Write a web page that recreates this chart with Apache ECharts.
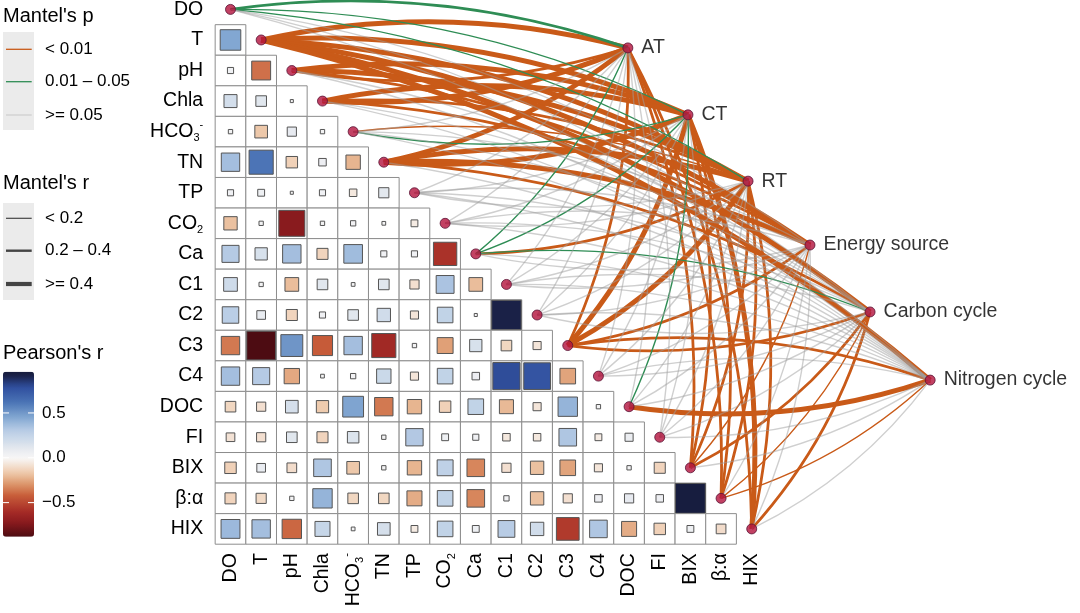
<!DOCTYPE html>
<html><head><meta charset="utf-8">
<script src="https://cdn.jsdelivr.net/npm/echarts@6/dist/echarts.min.js"></script>
<style>html,body{margin:0;padding:0;background:#fff}#c{width:1080px;height:613px}</style>
</head><body><div id="c"></div>
<script>
// ---------------- DATA ----------------
const variables = ['DO','T','pH','Chla','HCO3','TN','TP','CO2','Ca','C1','C2','C3','C4','DOC','FI','BIX','β:α','HIX'];
const groups = ['AT','CT','RT','Energy source','Carbon cycle','Nitrogen cycle'];

// Pearson's r, lower triangle: row i holds r(variable i, variable j) for j < i
const pearsonRows = [
  [],
  [0.45],
  [0.04, -0.38],
  [0.18, 0.12, 0.01],
  [0.02, -0.17, 0.09, 0.02],
  [0.36, 0.62, -0.14, 0.06, -0.22],
  [0.04, 0.05, 0.01, 0.04, -0.06, 0.11],
  [-0.19, 0.02, -0.72, 0.02, 0.03, 0.015, -0.05],
  [0.31, 0.16, 0.36, -0.13, 0.37, 0.04, 0.04, -0.58],
  [0.2, 0.02, -0.2, 0.12, 0.015, 0.12, -0.09, 0.34, -0.2],
  [0.29, 0.08, -0.13, 0.04, 0.12, 0.19, -0.07, 0.26, 0.01, 0.92],
  [-0.36, -0.88, 0.51, -0.43, 0.36, -0.62, 0.02, -0.27, 0.16, -0.12, -0.07],
  [0.36, 0.31, -0.25, 0.015, 0.03, 0.22, -0.07, 0.26, 0.06, 0.79, 0.76, -0.26],
  [-0.12, -0.09, 0.17, -0.16, 0.46, -0.36, -0.22, -0.14, 0.26, -0.21, -0.07, 0.4, 0.02],
  [-0.08, -0.09, 0.12, -0.13, 0.14, 0.02, 0.32, 0.05, 0.04, -0.06, -0.06, 0.33, -0.05, 0.07],
  [-0.14, 0.08, -0.1, 0.33, -0.17, 0.02, -0.22, 0.27, -0.33, -0.09, -0.19, -0.26, -0.07, 0.02, -0.13],
  [-0.13, -0.11, 0.02, 0.4, -0.12, -0.12, -0.24, 0.26, -0.33, 0.03, -0.19, -0.09, 0.06, 0.09, 0.06, 0.95],
  [0.38, 0.36, -0.4, 0.24, 0.015, 0.17, -0.05, 0.26, 0.05, 0.3, 0.19, -0.55, 0.33, -0.24, -0.14, 0.05, -0.1]
];

// Mantel's r and p for each group (order of `variables`)
const mantelR_AT = [0.30,0.55,0.30,0.45,0.08,0.50,0.05,0.06,0.15,0.05,0.06,0.35,0.07,0.10,0.04,0.30,0.25,0.30];
const mantelP_AT = [0.02,0.001,0.001,0.001,0.30,0.001,0.50,0.40,0.03,0.60,0.50,0.001,0.30,0.20,0.60,0.005,0.005,0.002];
const mantelR_CT = [0.15,0.60,0.45,0.45,0.12,0.50,0.06,0.05,0.15,0.05,0.07,0.50,0.08,0.15,0.05,0.30,0.30,0.45];
const mantelP_CT = [0.04,0.001,0.001,0.001,0.03,0.001,0.40,0.50,0.04,0.50,0.40,0.001,0.30,0.03,0.50,0.004,0.004,0.001];
const mantelR_RT = [0.12,0.55,0.42,0.35,0.18,0.50,0.05,0.06,0.25,0.06,0.05,0.45,0.08,0.10,0.06,0.35,0.30,0.35];
const mantelP_RT = [0.04,0.001,0.001,0.001,0.008,0.001,0.50,0.40,0.005,0.40,0.50,0.001,0.30,0.20,0.40,0.002,0.003,0.002];
const mantelR_ES = [0.08,0.50,0.30,0.30,0.06,0.42,0.05,0.05,0.08,0.06,0.05,0.30,0.07,0.08,0.05,0.18,0.10,0.10];
const mantelP_ES = [0.20,0.001,0.002,0.003,0.40,0.001,0.50,0.60,0.20,0.50,0.60,0.002,0.30,0.20,0.50,0.008,0.10,0.10];
const mantelR_CC = [0.07,0.45,0.10,0.10,0.06,0.30,0.05,0.06,0.12,0.06,0.05,0.30,0.08,0.10,0.06,0.30,0.18,0.30];
const mantelP_CC = [0.30,0.001,0.10,0.10,0.40,0.003,0.50,0.40,0.02,0.50,0.60,0.002,0.30,0.10,0.40,0.003,0.008,0.002];
const mantelR_NC = [0.06,0.40,0.08,0.08,0.05,0.10,0.05,0.05,0.06,0.05,0.05,0.30,0.07,0.42,0.05,0.10,0.18,0.10];
const mantelP_NC = [0.40,0.001,0.20,0.20,0.50,0.10,0.60,0.50,0.30,0.60,0.50,0.003,0.30,0.001,0.50,0.10,0.008,0.10];

const pTicks = [0.5, 0.0, -0.5];

// ---------------- STYLE / LAYOUT ----------------
const ORANGE = '#c95a18', GREEN = '#2f8d55', GRAY = 'rgba(160,160,160,0.5)';
const FONT = '"Liberation Sans", Arial, Helvetica, sans-serif';
const CELLX = 30.66, CELLY = 30.56;
const X0 = 230.5, Y0 = 9.4;          // pixel centre of column/row 0
const XMAX = 24.5;
const WIDTHS = [1.4, 2.8, 5.0];      // Mantel's r classes: <0.2, 0.2-0.4, >=0.4
// positions of group nodes (axis units)
const groupPos = [[12.96,1.26],[14.92,3.45],[16.88,5.62],[18.9,7.71],[20.86,9.9],[22.82,12.13]];

const mantelR = [mantelR_AT, mantelR_CT, mantelR_RT, mantelR_ES, mantelR_CC, mantelR_NC];
const mantelP = [mantelP_AT, mantelP_CT, mantelP_RT, mantelP_ES, mantelP_CC, mantelP_NC];

const paletteStops = [
  [-1, '#3a0610'], [-0.88, '#4d0c12'], [-0.72, '#8a1a1e'], [-0.6, '#a62c26'], [-0.42, '#c85e3a'],
  [-0.3, '#dc9468'], [-0.17, '#eec9aa'], [-0.05, '#f5ebe3'], [0, '#f7f7f7'], [0.1, '#e6e9ef'],
  [0.18, '#d3deeb'], [0.31, '#b6cbe5'], [0.45, '#82a7d2'], [0.62, '#4a73b5'], [0.79, '#2f4e9e'],
  [0.92, '#1a2045'], [1, '#121833']
];
function hex2rgb(h){return [parseInt(h.slice(1,3),16),parseInt(h.slice(3,5),16),parseInt(h.slice(5,7),16)];}
function palette(v){
  for(let k=0;k<paletteStops.length-1;k++){
    const [a,ca]=paletteStops[k],[b,cb]=paletteStops[k+1];
    if(v>=a && v<=b){const t=(v-a)/(b-a);const A=hex2rgb(ca),B=hex2rgb(cb);
      return 'rgb('+A.map((x,i)=>Math.round(x+(B[i]-x)*t)).join(',')+')';}
  }
  return v<0?paletteStops[0][1]:paletteStops[paletteStops.length-1][1];
}
const VM_MIN = -0.88, VM_MAX = 0.96, VM_TOP = 371.7, VM_H = 165, VM_LEFT = 3, VM_W = 31;
const vmColors = [];
for(let k=0;k<=40;k++){vmColors.push(palette(VM_MIN+(VM_MAX-VM_MIN)*k/40));}

// ---------------- BUILD ----------------
const cellData = [];
pearsonRows.forEach((row,i)=>row.forEach((r,j)=>cellData.push([j,i,r])));

const linksOrange=[], linksGreen=[], linksGray=[];
groups.forEach((g,k)=>{
  variables.forEach((v,i)=>{
    const r=mantelR[k][i], p=mantelP[k][i];
    const w = r<0.2?WIDTHS[0]:(r<0.4?WIDTHS[1]:WIDTHS[2]);
    const pos=groupPos[k];
    const curv = pos[1]>i ? 0.12 : -0.12;
    const item={coords:[[i,i],pos],lineStyle:{width:w,curveness:curv}};
    if(p<0.01){item.lineStyle.color=ORANGE;linksOrange.push(item);}
    else if(p<0.05){item.lineStyle.color=GREEN;linksGreen.push(item);}
    else {item.lineStyle.width=Math.min(w,1.4);item.lineStyle.color=GRAY;linksGray.push(item);}
  });
});

const rich = {
  n:{fontSize:19.5,fontFamily:FONT,color:'#000',lineHeight:24,verticalAlign:'middle'},
  s:{fontSize:11,fontFamily:FONT,color:'#000',lineHeight:11,verticalAlign:'bottom'},
  u:{fontSize:11,fontFamily:FONT,color:'#000',lineHeight:11,verticalAlign:'top'}
};
function fmtLabel(name){
  if(name==='HCO3') return '{n|HCO}{s|3}{u|-}';
  if(name==='CO2') return '{n|CO}{s|2}';
  return '{n|'+name+'}';
}
const idx = variables.map((v,i)=>i);

const chart = echarts.init(document.getElementById('c'), null, {renderer:'canvas'});
const gLegend = [];
function txt(x,y,t,size){return {type:'text',style:{x:x,y:y,text:t,font:size+'px '+FONT,fill:'#000',verticalAlign:'middle',align:'left'}};}
gLegend.push(txt(3,16,"Mantel's p",20));
gLegend.push({type:'rect',shape:{x:3,y:32,width:31,height:98},style:{fill:'#ebebeb'}});
[[ORANGE,49.3,'< 0.01'],[GREEN,81.7,'0.01 – 0.05'],['#cfcfcf',115,'>= 0.05']].forEach(([c,y,t])=>{
  gLegend.push({type:'line',shape:{x1:6,y1:y,x2:31.7,y2:y},style:{stroke:c,lineWidth:1.3}});
  gLegend.push(txt(45,y,t,17));
});
gLegend.push(txt(3,183,"Mantel's r",20));
gLegend.push({type:'rect',shape:{x:3,y:203,width:31,height:97},style:{fill:'#ebebeb'}});
[[1.2,218.3,'< 0.2'],[2.4,250.7,'0.2 – 0.4'],[4.2,284,'>= 0.4']].forEach(([w,y,t])=>{
  gLegend.push({type:'line',shape:{x1:6,y1:y,x2:31.7,y2:y},style:{stroke:'#444',lineWidth:w}});
  gLegend.push(txt(45,y,t,17));
});
gLegend.push(txt(3,353,"Pearson's r",20));
pTicks.forEach(v=>{
  const y = VM_TOP + (VM_MAX - v)/(VM_MAX-VM_MIN)*VM_H;
  gLegend.push({type:'line',shape:{x1:VM_LEFT,y1:y,x2:VM_LEFT+6,y2:y},style:{stroke:'#fff',lineWidth:1},z:100});
  gLegend.push({type:'line',shape:{x1:VM_LEFT+VM_W-6,y1:y,x2:VM_LEFT+VM_W,y2:y},style:{stroke:'#fff',lineWidth:1},z:100});
  gLegend.push(txt(42,y,v===0?'0.0':(v<0?'−'+Math.abs(v).toFixed(1):v.toFixed(1)),17));
});

const option = {
  backgroundColor:'#fff',
  animation:false,
  grid:{left:X0-0.5*CELLX, top:Y0-0.5*CELLY, width:(XMAX+0.5)*CELLX, height:18*CELLY, outerBoundsMode:'none', containLabel:false},
  xAxis:{type:'value',min:-0.5,max:XMAX,
    axisLine:{show:false},axisTick:{show:false},splitLine:{show:false},
    axisLabel:{customValues:idx,rotate:90,margin:9,formatter:v=>fmtLabel(variables[Math.round(v)]),rich:rich}},
  yAxis:{type:'value',min:-0.5,max:17.5,inverse:true,
    axisLine:{show:false},axisTick:{show:false},splitLine:{show:false},
    axisLabel:{customValues:idx,margin:12,formatter:v=>fmtLabel(variables[Math.round(v)]),rich:rich}},
  visualMap:{type:'continuous',min:VM_MIN,max:VM_MAX,dimension:2,seriesIndex:0,calculable:false,hoverLink:false,
    left:VM_LEFT,top:VM_TOP,itemWidth:VM_W,itemHeight:VM_H,padding:0,text:null,showLabel:false,
    inRange:{color:vmColors}},
  graphic:gLegend,
  series:[
    {type:'custom',coordinateSystem:'cartesian2d',data:cellData,z:1,silent:true,clip:false,
      renderItem:function(params,api){
        const c=api.coord([api.value(0),api.value(1)]);
        const s=api.size([1,1]);
        const r=api.value(2);
        const f=Math.sqrt(Math.abs(r));
        const w=s[0]*f,h=s[1]*f;
        return {type:'group',children:[
          {type:'rect',shape:{x:c[0]-s[0]/2,y:c[1]-s[1]/2,width:s[0],height:s[1]},style:{fill:'#fff',stroke:'#8d8d8d',lineWidth:1}},
          {type:'rect',shape:{x:c[0]-w/2,y:c[1]-h/2,width:w,height:h},style:{fill:api.visual('color'),stroke:'#555',lineWidth:1}}
        ]};
      }},
    {type:'lines',coordinateSystem:'cartesian2d',data:linksOrange,z:3,silent:true,lineStyle:{opacity:1}},
    {type:'lines',coordinateSystem:'cartesian2d',data:linksGreen,z:4,silent:true,lineStyle:{opacity:1}},
    {type:'lines',coordinateSystem:'cartesian2d',data:linksGray,z:5,silent:true,lineStyle:{opacity:1}},
    {type:'scatter',data:idx.map(i=>[i,i]),symbol:'circle',symbolSize:10,z:10,silent:true,
      itemStyle:{color:'#b3123c',borderColor:'#5a1436',borderWidth:1}},
    {type:'scatter',data:groupPos.map((p,k)=>({value:p,name:groups[k]})),symbol:'circle',symbolSize:10,z:10,silent:true,
      itemStyle:{color:'#b3123c',borderColor:'#5a1436',borderWidth:1},
      label:{show:true,position:'right',distance:8,formatter:'{b}',fontSize:19.5,fontFamily:FONT,color:'#000'}}
  ]
};
chart.setOption(option);
</script></body></html>
